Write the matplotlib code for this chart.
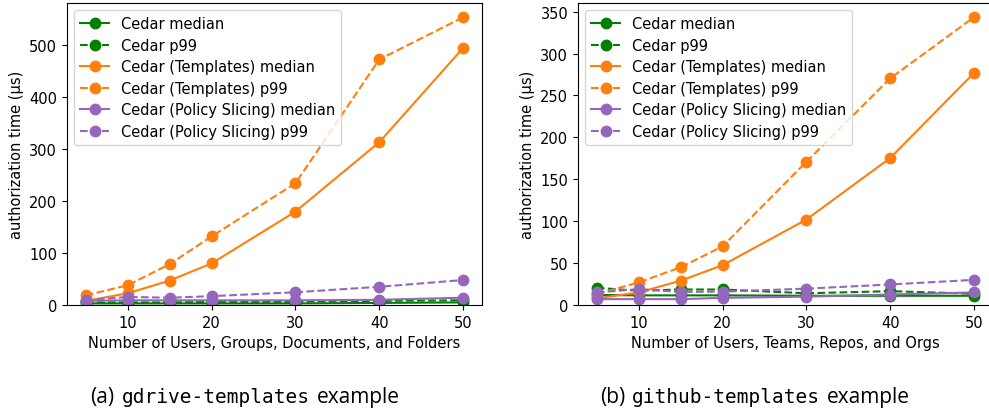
import numpy as np
import matplotlib
matplotlib.use("Agg")
import matplotlib.pyplot as plt

x = [5, 10, 15, 20, 30, 40, 50]

# (a) gdrive-templates
gd_cedar_med = [3, 3, 3, 3, 3, 4, 5]
gd_cedar_p99 = [5, 5, 5, 6, 6, 8, 9]
gd_tmpl_med = [8, 22.5, 47, 80, 179.5, 313, 494]
gd_tmpl_p99 = [18.5, 38, 78.5, 132, 234, 472, 553]
gd_slice_med = [8, 9, 9, 9, 9, 10, 14]
gd_slice_p99 = [9, 15.5, 14, 17, 24.5, 35, 48]

# (b) github-templates
gh_cedar_med = [12, 11.5, 11.5, 11.5, 11, 11, 11]
gh_cedar_p99 = [20.5, 17, 18.5, 18.5, 14, 16.5, 13.5]
gh_tmpl_med = [8, 15, 29, 47.5, 102, 175.5, 277]
gh_tmpl_p99 = [13, 27, 45, 70, 171, 270.5, 343.5]
gh_slice_med = [7, 7, 7, 8.5, 10, 12.5, 15]
gh_slice_p99 = [15, 19, 15.5, 16, 19.5, 24.5, 30]

labels = ["Cedar median", "Cedar p99",
          "Cedar (Templates) median", "Cedar (Templates) p99",
          "Cedar (Policy Slicing) median", "Cedar (Policy Slicing) p99"]
colors = ["green", "green", "#ff7f0e", "#ff7f0e", "#9467bd", "#9467bd"]
styles = ["-", "--", "-", "--", "-", "--"]

xlabels = ["Number of Users, Groups, Documents, and Folders",
           "Number of Users, Teams, Repos, and Orgs"]

plt.rcParams["font.size"] = 10.5

W, H = 989, 410
fig = plt.figure(figsize=(W / 100, H / 100), dpi=100)

ax1 = fig.add_axes([67 / W, (H - 306) / H, 415 / W, 302 / H])
ax2 = fig.add_axes([578 / W, (H - 306) / H, 415 / W, 302 / H])

datasets = [
    [gd_cedar_med, gd_cedar_p99, gd_tmpl_med, gd_tmpl_p99, gd_slice_med, gd_slice_p99],
    [gh_cedar_med, gh_cedar_p99, gh_tmpl_med, gh_tmpl_p99, gh_slice_med, gh_slice_p99],
]

for ax, series, xl in zip([ax1, ax2], datasets, xlabels):
    for ys, lab, c, ls in zip(series, labels, colors, styles):
        ax.plot(x, ys, marker="o", markersize=7.5, color=c, linestyle=ls, label=lab)
    ax.set_ylim(bottom=0)
    ax.set_xticks([10, 20, 30, 40, 50])
    ax.set_xlabel(xl)
    ax.set_ylabel("authorization time (µs)")
    ax.legend(loc="upper left", labelspacing=0.45)

# captions
base = (H - 403) / H
cap_font = "Open Sans"
mono = "DejaVu Sans Mono"
for x0, tag, name in [(90, "(a)", "gdrive-templates"), (600, "(b)", "github-templates")]:
    fig.text(x0 / W, base, tag, fontsize=15, family=cap_font, va="baseline")
    fig.text((x0 + 32) / W, base, name, fontsize=14, family=mono, va="baseline")
    fig.text((x0 + 227) / W, base, "example", fontsize=15, family=cap_font, va="baseline")

fig.savefig("out.png", dpi=100)
